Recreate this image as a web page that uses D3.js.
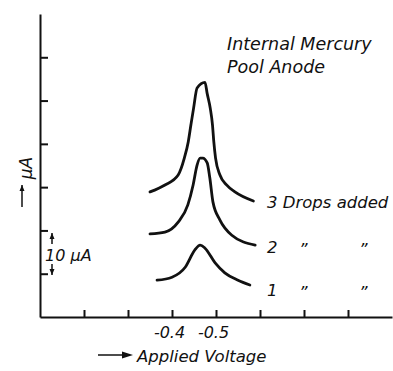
<!DOCTYPE html>
<html>
<head>
<meta charset="utf-8">
<script src="https://cdn.jsdelivr.net/npm/d3@7"></script>
<style>
  body { margin: 0; background: #fff; }
  text { font-family: "DejaVu Sans", sans-serif; font-style: italic; fill: #111; }
  .axis path, .axis line { stroke: #111; stroke-width: 2; }
</style>
</head>
<body>
<div id="chart"></div>
<script>
// applied voltage (V) and current (µA)
var drop3V = [-0.35, -0.384, -0.414, -0.428, -0.437, -0.443, -0.449, -0.457, -0.475, -0.480, -0.487, -0.492, -0.495, -0.499, -0.509, -0.524, -0.543, -0.585];
var drop3I = [28.9, 30.5, 32.8, 36.7, 40.5, 44.4, 48.2, 52.9, 54.2, 51.6, 48.2, 44.4, 40.5, 36.7, 32.8, 30.5, 28.9, 26.8];
var drop2V = [-0.35, -0.384, -0.414, -0.436, -0.448, -0.457, -0.464, -0.470, -0.480, -0.486, -0.493, -0.509, -0.536, -0.589];
var drop2I = [19.2, 19.6, 21.9, 25.9, 30.5, 35.1, 36.7, 36.7, 35.6, 32.1, 26.6, 22.4, 18.9, 16.6];
var drop1V = [-0.366, -0.400, -0.430, -0.452, -0.464, -0.475, -0.498, -0.520, -0.550, -0.577];
var drop1I = [8.5, 9.2, 11.5, 15.5, 16.6, 15.9, 12.5, 10.2, 8.5, 7.4];
var xTicks = [-0.2, -0.3, -0.4, -0.5, -0.6, -0.7, -0.8];
var xLabels = [-0.4, -0.5];
var yTicks = [10, 20, 30, 40, 50, 60];

var width = 393, height = 371;
var svg = d3.select("#chart").append("svg")
  .attr("width", width)
  .attr("height", height);

var x = d3.scaleLinear().domain([-0.1, -0.9]).range([40, 392]);
var y = d3.scaleLinear().domain([0, 70]).range([317, 14]);

// x axis, ticks pointing up
var xAxis = d3.axisBottom(x)
  .tickValues(xTicks)
  .tickSizeInner(-7)
  .tickSizeOuter(0)
  .tickPadding(10)
  .tickFormat(function (d) {
    return xLabels.indexOf(Math.round(d * 10) / 10) >= 0 ? d.toFixed(1) : "";
  });
var gx = svg.append("g")
  .attr("class", "axis")
  .attr("transform", "translate(0," + y(0) + ")")
  .call(xAxis);
gx.selectAll("text").style("font-size", "16px").style("fill", "#111").attr("dx", -3);

// y axis, ticks pointing right, no labels
var yAxis = d3.axisLeft(y)
  .tickValues(yTicks)
  .tickSizeInner(-8)
  .tickSizeOuter(0)
  .tickFormat("");
svg.append("g")
  .attr("class", "axis")
  .attr("transform", "translate(" + x(-0.1) + ",0)")
  .call(yAxis);

var line = d3.line()
  .x(function (d) { return x(d[0]); })
  .y(function (d) { return y(d[1]); })
  .curve(d3.curveMonotoneX);

[[drop3V, drop3I], [drop2V, drop2I], [drop1V, drop1I]].forEach(function (s) {
  svg.append("path")
    .datum(d3.zip(s[0], s[1]))
    .attr("d", line)
    .attr("fill", "none")
    .attr("stroke", "#111")
    .attr("stroke-width", 2.8)
    .attr("stroke-linecap", "round")
    .attr("stroke-linejoin", "round");
});

// title
svg.append("text").attr("x", 227).attr("y", 50).style("font-size", "17.5px").text("Internal Mercury");
svg.append("text").attr("x", 227).attr("y", 73).style("font-size", "17.5px").text("Pool Anode");

// curve labels
svg.append("text").attr("x", 267).attr("y", 208).style("font-size", "16.5px").text("3 Drops added");
svg.append("text").attr("x", 267).attr("y", 253).style("font-size", "16.5px").text("2");
svg.append("text").attr("x", 299).attr("y", 255).style("font-size", "16.5px").text("\u201D");
svg.append("text").attr("x", 359).attr("y", 255).style("font-size", "16.5px").text("\u201D");
svg.append("text").attr("x", 267).attr("y", 296).style("font-size", "16.5px").text("1");
svg.append("text").attr("x", 299).attr("y", 298).style("font-size", "16.5px").text("\u201D");
svg.append("text").attr("x", 359).attr("y", 298).style("font-size", "16.5px").text("\u201D");

// scale bar 10 µA
svg.append("text").attr("x", 45).attr("y", 261).style("font-size", "16px").text("10 \u00B5A");
var arrowUp = function (cx, y0, y1) {
  svg.append("line").attr("x1", cx).attr("x2", cx).attr("y1", y0).attr("y2", y1)
    .attr("stroke", "#111").attr("stroke-width", 1.5);
  var dir = y1 < y0 ? 1 : -1;
  svg.append("path")
    .attr("d", "M" + (cx - 2.5) + "," + (y1 + dir * 6) + "L" + cx + "," + y1 + "L" + (cx + 2.5) + "," + (y1 + dir * 6) + "Z")
    .attr("fill", "#111");
};
arrowUp(52, 244, 233);
arrowUp(52, 264, 275);

// y axis label
svg.append("text")
  .attr("transform", "translate(32,168) rotate(-90)")
  .attr("text-anchor", "middle")
  .style("font-size", "17px")
  .text("\u00B5A");
arrowUp(22, 207, 185);

// x axis label
svg.append("line").attr("x1", 98).attr("x2", 126).attr("y1", 355).attr("y2", 355)
  .attr("stroke", "#111").attr("stroke-width", 1.5);
svg.append("path").attr("d", "M122,351.5L133,355L122,358.5Z").attr("fill", "#111");
svg.append("text").attr("x", 137).attr("y", 362).style("font-size", "16.5px").text("Applied Voltage");
</script>
</body>
</html>
